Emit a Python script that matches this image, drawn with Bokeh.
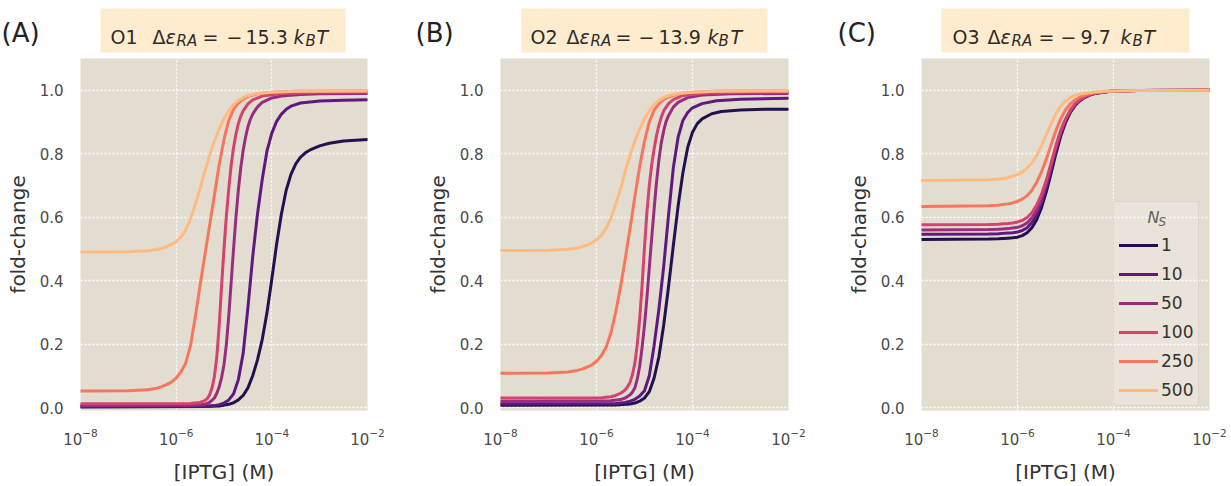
from bokeh.plotting import figure
from bokeh.models import Range1d, FixedTicker, NumeralTickFormatter, Legend, LegendItem, Label
from bokeh.layouts import column, row
from bokeh.embed import file_html
from bokeh.resources import INLINE
from bokeh.core.properties import value

FONT = "DejaVu Sans"

# ---------------- data ----------------
repressor_labels = ["1", "10", "50", "100", "250", "500"]
colors = ["#221150", "#5f187f", "#982d80", "#d3436e", "#f8765c", "#febb81"]
x_ticks = [1e-8, 1e-6, 1e-4, 1e-2]
y_ticks = [0.0, 0.2, 0.4, 0.6, 0.8, 1.0]
panel_letters = ["(A)", "(B)", "(C)"]

# Panel A: O1 (log10 [IPTG] in M, fold-change)
o1_n1_logc = [-8, -5.4, -5.1, -4.9, -4.8, -4.7, -4.6, -4.5, -4.4, -4.3, -4.2, -4.1, -4.0, -3.9, -3.8, -3.7, -3.6, -3.5, -3.4, -3.3, -3.2, -3.0, -2.8, -2.5, -2.0]
o1_n1_fc = [0.002, 0.003, 0.005, 0.010, 0.015, 0.024, 0.038, 0.062, 0.100, 0.150, 0.215, 0.300, 0.405, 0.515, 0.610, 0.685, 0.735, 0.768, 0.789, 0.803, 0.812, 0.825, 0.833, 0.840, 0.845]
o1_n10_logc = [-8, -5.4, -5.2, -5.1, -5.0, -4.9, -4.8, -4.7, -4.6, -4.5, -4.4, -4.3, -4.2, -4.1, -4.0, -3.9, -3.8, -3.7, -3.6, -3.4, -3.0, -2.5, -2.0]
o1_n10_fc = [0.003, 0.004, 0.006, 0.009, 0.014, 0.024, 0.043, 0.088, 0.170, 0.315, 0.475, 0.610, 0.720, 0.810, 0.865, 0.902, 0.925, 0.940, 0.950, 0.960, 0.966, 0.969, 0.970]
o1_n50_logc = [-8, -5.6, -5.4, -5.3, -5.2, -5.15, -5.1, -5.05, -5.0, -4.95, -4.9, -4.85, -4.8, -4.75, -4.7, -4.65, -4.6, -4.55, -4.5, -4.45, -4.4, -4.3, -4.2, -4.0, -3.8, -3.4, -3.0, -2.0]
o1_n50_fc = [0.006, 0.007, 0.010, 0.016, 0.030, 0.045, 0.065, 0.095, 0.135, 0.200, 0.290, 0.395, 0.500, 0.600, 0.685, 0.755, 0.810, 0.852, 0.885, 0.908, 0.925, 0.948, 0.962, 0.976, 0.982, 0.987, 0.989, 0.990]
o1_n100_logc = [-8, -5.7, -5.5, -5.4, -5.35, -5.3, -5.25, -5.2, -5.15, -5.1, -5.05, -5.0, -4.95, -4.9, -4.85, -4.8, -4.75, -4.7, -4.65, -4.6, -4.5, -4.4, -4.2, -3.8, -3.0, -2.0]
o1_n100_fc = [0.012, 0.013, 0.016, 0.022, 0.028, 0.040, 0.062, 0.098, 0.160, 0.260, 0.385, 0.500, 0.605, 0.690, 0.765, 0.820, 0.862, 0.895, 0.918, 0.935, 0.957, 0.970, 0.982, 0.990, 0.994, 0.995]
o1_n250_logc = [-8, -7.0, -6.6, -6.4, -6.3, -6.2, -6.1, -6.0, -5.9, -5.8, -5.7, -5.6, -5.5, -5.4, -5.3, -5.2, -5.1, -5.0, -4.9, -4.8, -4.7, -4.6, -4.5, -4.3, -4.0, -3.5, -2.0]
o1_n250_fc = [0.052, 0.053, 0.056, 0.061, 0.066, 0.072, 0.080, 0.093, 0.112, 0.140, 0.195, 0.285, 0.385, 0.480, 0.575, 0.670, 0.765, 0.845, 0.905, 0.940, 0.960, 0.972, 0.980, 0.989, 0.994, 0.997, 0.998]
o1_n500_logc = [-8, -7.0, -6.6, -6.4, -6.3, -6.2, -6.1, -6.0, -5.9, -5.8, -5.7, -5.6, -5.5, -5.4, -5.3, -5.2, -5.1, -5.0, -4.9, -4.8, -4.7, -4.6, -4.5, -4.3, -4.0, -3.5, -2.0]
o1_n500_fc = [0.490, 0.491, 0.494, 0.498, 0.502, 0.507, 0.514, 0.523, 0.537, 0.560, 0.595, 0.640, 0.690, 0.745, 0.795, 0.840, 0.878, 0.910, 0.935, 0.955, 0.968, 0.977, 0.983, 0.990, 0.994, 0.997, 0.998]

# Panel B: O2
o2_n1_logc = [-8, -5.6, -5.3, -5.2, -5.1, -5.0, -4.9, -4.8, -4.7, -4.6, -4.5, -4.4, -4.3, -4.2, -4.1, -4.0, -3.9, -3.8, -3.6, -3.4, -3.0, -2.5, -2.0]
o2_n1_fc = [0.007, 0.008, 0.011, 0.014, 0.020, 0.030, 0.050, 0.093, 0.160, 0.260, 0.380, 0.510, 0.635, 0.740, 0.820, 0.868, 0.895, 0.910, 0.926, 0.933, 0.938, 0.940, 0.940]
o2_n10_logc = [-8, -5.6, -5.4, -5.3, -5.2, -5.1, -5.0, -4.9, -4.8, -4.7, -4.6, -4.5, -4.4, -4.3, -4.2, -4.1, -4.0, -3.8, -3.5, -3.0, -2.0]
o2_n10_fc = [0.012, 0.013, 0.016, 0.020, 0.026, 0.036, 0.053, 0.100, 0.195, 0.310, 0.445, 0.605, 0.755, 0.852, 0.905, 0.930, 0.945, 0.958, 0.967, 0.972, 0.975]
o2_n50_logc = [-8, -5.7, -5.5, -5.4, -5.3, -5.25, -5.2, -5.15, -5.1, -5.05, -5.0, -4.95, -4.9, -4.85, -4.8, -4.75, -4.7, -4.65, -4.6, -4.55, -4.5, -4.4, -4.3, -4.1, -3.8, -3.2, -2.0]
o2_n50_fc = [0.020, 0.021, 0.025, 0.030, 0.040, 0.049, 0.062, 0.090, 0.130, 0.190, 0.260, 0.345, 0.440, 0.535, 0.625, 0.710, 0.780, 0.835, 0.873, 0.902, 0.920, 0.947, 0.962, 0.977, 0.985, 0.989, 0.990]
o2_n100_logc = [-8, -5.9, -5.7, -5.6, -5.5, -5.45, -5.4, -5.35, -5.3, -5.25, -5.2, -5.15, -5.1, -5.05, -5.0, -4.95, -4.9, -4.85, -4.8, -4.75, -4.7, -4.65, -4.6, -4.5, -4.4, -4.2, -3.8, -3.0, -2.0]
o2_n100_fc = [0.030, 0.031, 0.034, 0.038, 0.045, 0.050, 0.056, 0.066, 0.080, 0.104, 0.140, 0.200, 0.280, 0.385, 0.505, 0.615, 0.700, 0.765, 0.815, 0.857, 0.890, 0.915, 0.935, 0.958, 0.971, 0.984, 0.991, 0.994, 0.995]
o2_n250_logc = [-8, -7.0, -6.6, -6.4, -6.3, -6.2, -6.1, -6.0, -5.9, -5.8, -5.7, -5.6, -5.5, -5.4, -5.3, -5.2, -5.1, -5.0, -4.9, -4.8, -4.7, -4.6, -4.5, -4.3, -4.0, -3.5, -2.0]
o2_n250_fc = [0.108, 0.109, 0.112, 0.117, 0.121, 0.127, 0.134, 0.146, 0.163, 0.190, 0.235, 0.300, 0.380, 0.470, 0.565, 0.665, 0.760, 0.840, 0.900, 0.937, 0.958, 0.971, 0.979, 0.989, 0.994, 0.997, 0.998]
o2_n500_logc = [-8, -7.0, -6.6, -6.4, -6.3, -6.2, -6.1, -6.0, -5.9, -5.8, -5.7, -5.6, -5.5, -5.4, -5.3, -5.2, -5.1, -5.0, -4.9, -4.8, -4.7, -4.6, -4.5, -4.3, -4.0, -3.5, -2.0]
o2_n500_fc = [0.495, 0.496, 0.499, 0.503, 0.507, 0.512, 0.519, 0.529, 0.543, 0.565, 0.597, 0.640, 0.690, 0.745, 0.795, 0.840, 0.878, 0.910, 0.935, 0.955, 0.968, 0.977, 0.983, 0.990, 0.994, 0.997, 0.998]

# Panel C: O3 (shared concentration grid)
o3_logc = [-8, -6.6, -6.4, -6.3, -6.2, -6.1, -6.0, -5.9, -5.8, -5.7, -5.6, -5.5, -5.4, -5.3, -5.2, -5.1, -5.0, -4.9, -4.8, -4.7, -4.6, -4.5, -4.4, -4.2, -4.0, -3.5, -2.0]
o3_n1_fc = [0.530, 0.531, 0.532, 0.533, 0.534, 0.535, 0.537, 0.542, 0.551, 0.567, 0.592, 0.630, 0.680, 0.738, 0.800, 0.855, 0.898, 0.930, 0.952, 0.967, 0.978, 0.985, 0.990, 0.995, 0.998, 0.9995, 1.0]
o3_n10_fc = [0.546, 0.547, 0.548, 0.549, 0.550, 0.551, 0.553, 0.558, 0.567, 0.583, 0.608, 0.645, 0.693, 0.750, 0.810, 0.862, 0.902, 0.932, 0.954, 0.968, 0.978, 0.985, 0.990, 0.995, 0.998, 0.9995, 1.0]
o3_n50_fc = [0.560, 0.561, 0.562, 0.563, 0.564, 0.566, 0.568, 0.573, 0.582, 0.598, 0.622, 0.658, 0.705, 0.760, 0.818, 0.868, 0.906, 0.935, 0.956, 0.970, 0.979, 0.986, 0.990, 0.995, 0.998, 0.9995, 1.0]
o3_n100_fc = [0.576, 0.577, 0.578, 0.579, 0.580, 0.582, 0.585, 0.590, 0.599, 0.614, 0.638, 0.672, 0.717, 0.770, 0.826, 0.874, 0.910, 0.938, 0.958, 0.971, 0.980, 0.986, 0.991, 0.995, 0.998, 0.9995, 1.0]
o3_n250_fc = [0.634, 0.636, 0.638, 0.640, 0.642, 0.645, 0.650, 0.657, 0.668, 0.685, 0.710, 0.743, 0.783, 0.828, 0.873, 0.910, 0.938, 0.957, 0.970, 0.979, 0.985, 0.989, 0.992, 0.996, 0.998, 0.9995, 1.0]
o3_n500_fc = [0.716, 0.718, 0.720, 0.722, 0.725, 0.729, 0.734, 0.742, 0.754, 0.771, 0.795, 0.825, 0.860, 0.895, 0.926, 0.950, 0.966, 0.977, 0.984, 0.988, 0.991, 0.993, 0.995, 0.997, 0.998, 0.9995, 1.0]

panel_a_x = [o1_n1_logc, o1_n10_logc, o1_n50_logc, o1_n100_logc, o1_n250_logc, o1_n500_logc]
panel_a_y = [o1_n1_fc, o1_n10_fc, o1_n50_fc, o1_n100_fc, o1_n250_fc, o1_n500_fc]
panel_b_x = [o2_n1_logc, o2_n10_logc, o2_n50_logc, o2_n100_logc, o2_n250_logc, o2_n500_logc]
panel_b_y = [o2_n1_fc, o2_n10_fc, o2_n50_fc, o2_n100_fc, o2_n250_fc, o2_n500_fc]
panel_c_x = [o3_logc] * 6
panel_c_y = [o3_n1_fc, o3_n10_fc, o3_n50_fc, o3_n100_fc, o3_n250_fc, o3_n500_fc]

# ---------------- header (titles) ----------------
top = figure(width=1231, height=56, x_range=Range1d(0, 1231), y_range=Range1d(56, 0),
             output_backend="svg", toolbar_location=None, min_border=0,
             x_axis_location=None, y_axis_location=None)
top.outline_line_color = None
top.grid.visible = False
top.background_fill_color = "white"
top.border_fill_color = "white"

top.quad(left=[100, 521, 941], right=[345, 767, 1189], top=[8, 8, 8], bottom=[52, 52, 52],
         fill_color="#ffecce", line_color=None)
top.text(x=[1, 415, 837], y=[32, 32, 32], text=panel_letters, text_font=value(FONT),
         text_font_size=value("26px"), text_color="#222222", text_baseline="alphabetic")

BASE = 36.5
SUB = 40.5
# (text, x, italic?, subscript?)
pieces = [
    ("O1", 110, False, False), ("Δ", 152, False, False), ("ε", 165, True, False), ("RA", 176, True, True),
    ("=", 202, False, False), ("−", 226, False, False), ("15.3", 245, False, False),
    ("k", 293, True, False), ("B", 305, True, True), ("T", 316, True, False),
    ("O2", 530, False, False), ("Δ", 566, False, False), ("ε", 579, True, False), ("RA", 590, True, True),
    ("=", 615, False, False), ("−", 638, False, False), ("13.9", 658, False, False),
    ("k", 707, True, False), ("B", 718, True, True), ("T", 730, True, False),
    ("O3", 952, False, False), ("Δ", 987, False, False), ("ε", 1000, True, False), ("RA", 1011, True, True),
    ("=", 1038, False, False), ("−", 1060, False, False), ("9.7", 1080, False, False),
    ("k", 1120, True, False), ("B", 1132, True, True), ("T", 1143, True, False),
]
top.text(x=[p[1] for p in pieces], y=[SUB if p[3] else BASE for p in pieces],
         text=[p[0] for p in pieces], text_font=value(FONT),
         text_font_size=["15px" if p[3] else "19px" for p in pieces],
         text_font_style=["italic" if p[2] else "normal" for p in pieces],
         text_color="#2b2b2b", text_baseline="alphabetic", text_align="left")


# ---------------- panels ----------------
def make_panel(width, right_border, xs_list, ys_list, with_legend=False):
    p = figure(width=width, height=430, x_axis_type="log",
               x_range=Range1d(1e-8, 1e-2), y_range=Range1d(-0.0094, 1.1003),
               output_backend="svg", toolbar_location=None,
               min_border_left=80, min_border_right=right_border,
               min_border_top=2, min_border_bottom=74)
    p.background_fill_color = "#E3DCD0"
    p.border_fill_color = "white"
    p.outline_line_color = None

    p.xaxis.ticker = FixedTicker(ticks=x_ticks, minor_ticks=[])
    p.yaxis.ticker = FixedTicker(ticks=y_ticks, minor_ticks=[])
    p.yaxis.formatter = NumeralTickFormatter(format="0.0")
    p.xaxis.axis_label = "[IPTG] (M)"
    p.yaxis.axis_label = "fold-change"
    for ax in (p.xaxis, p.yaxis):
        ax.axis_line_color = None
        ax.major_tick_line_color = None
        ax.minor_tick_line_color = None
        ax.major_tick_out = 0
        ax.major_tick_in = 0
        ax.major_label_text_font = FONT
        ax.major_label_text_font_size = "15px"
        ax.major_label_text_color = "#4a4a4a"
        ax.major_label_standoff = 17
        ax.axis_label_text_font = FONT
        ax.axis_label_text_font_size = "20px"
        ax.axis_label_text_font_style = "normal"
        ax.axis_label_text_color = "#333333"
    p.xaxis.axis_label_standoff = 12
    p.yaxis.axis_label_standoff = 7

    p.grid.grid_line_color = "white"
    p.grid.grid_line_dash = "2 2"
    p.grid.grid_line_width = 1.3

    items = []
    for i, (lx, fc) in enumerate(zip(xs_list, ys_list)):
        r = p.line([10 ** v for v in lx], fc, line_color=colors[i], line_width=3,
                   line_join="round", line_cap="round")
        items.append(LegendItem(label=repressor_labels[i], renderers=[r]))

    if with_legend:
        legend = Legend(items=items, location=(192, 4), margin=0, title=" ",
                        title_text_font_size="16px", title_standoff=10,
                        glyph_width=39, glyph_height=20, label_height=20,
                        spacing=9, padding=5, label_standoff=3,
                        label_text_font=FONT, label_text_font_size="17px",
                        label_text_color="#333333",
                        background_fill_color="white", background_fill_alpha=0.22,
                        border_line_color="#cbc6bd", border_line_width=1)
        p.add_layout(legend)
        p.add_layout(Label(x=10 ** -3.29, y=0.599, text="N", text_font=FONT,
                           text_font_size="16px", text_font_style="italic",
                           text_color="#333333", text_baseline="alphabetic"))
        p.add_layout(Label(x=10 ** -3.06, y=0.586, text="S", text_font=FONT,
                           text_font_size="12px", text_font_style="italic",
                           text_color="#333333", text_baseline="alphabetic"))
    return p


pa = make_panel(420, 53, panel_a_x, panel_a_y)
pb = make_panel(421, 53, panel_b_x, panel_b_y)
pc = make_panel(390, 22, panel_c_x, panel_c_y, with_legend=True)

layout = column(top, row(pa, pb, pc))

open("out.html", "w").write(file_html(layout, INLINE))
